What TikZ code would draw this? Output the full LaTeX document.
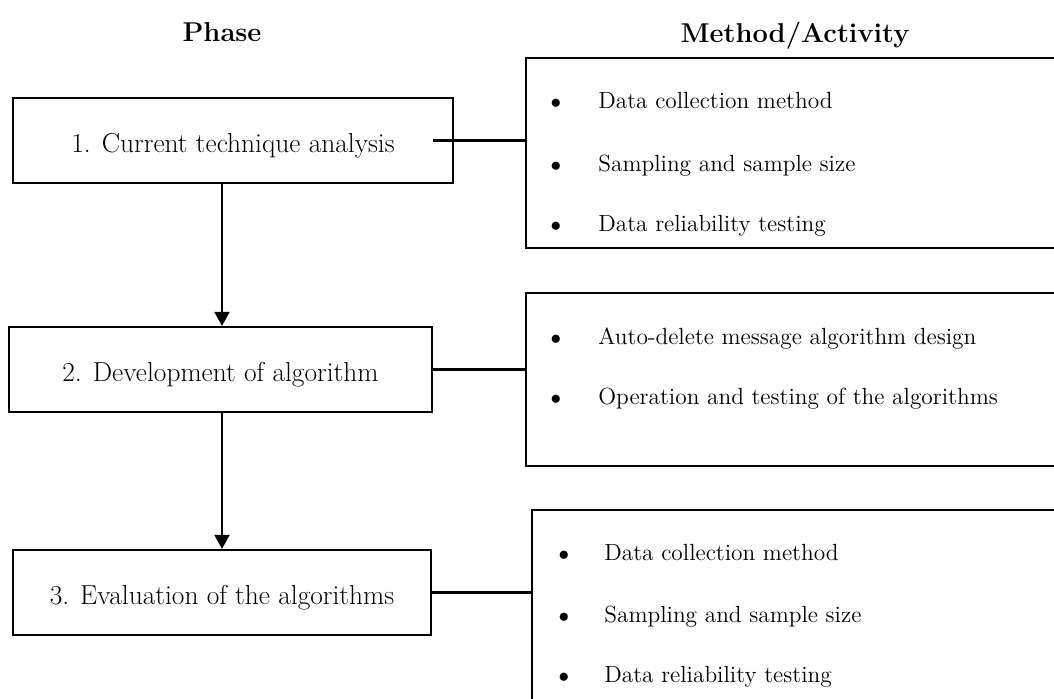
\documentclass[tikz,border=0pt]{standalone}
\usepackage{tikz}
\usetikzlibrary{arrows.meta,positioning,calc}
\tikzset{
  phasebox/.style={rectangle, draw=black, line width=1.2pt, minimum height=1.7cm,
                   inner sep=0pt, text height=17pt, text depth=2.8pt,
                   font=\fontsize{15.6}{18}\selectfont},
  actbox/.style={rectangle, draw=black, line width=1.2pt, inner sep=0pt},
  actbullet/.style={anchor=base, inner sep=0pt, font=\fontsize{11.5}{14}\selectfont},
  actitem/.style={anchor=base west, inner sep=0pt, font=\fontsize{13.3}{16}\selectfont},
  headtitle/.style={anchor=base, inner sep=0pt, font=\bfseries\fontsize{15.5}{19}\selectfont},
  plink/.style={line width=1.2pt, black},
  parrow/.style={-{Triangle[length=8pt,width=8.5pt]}, line width=1.2pt, black},
}
\begin{document}
\begin{tikzpicture}
  \clip (0,0) rectangle (21.08,-13.96);
  \node[headtitle] (hphase) at (4.44,-0.82) {Phase};
  \node[headtitle] (hmeth) at (15.9,-0.85) {Method/Activity};
  \node[phasebox, minimum width=8.8cm]  (p1) at (4.66,-2.81)  {1. Current technique analysis};
  \node[phasebox, minimum width=8.46cm] (p2) at (4.41,-7.39)  {2. Development of algorithm};
  \node[phasebox, minimum width=8.36cm] (p3) at (4.44,-11.85) {3. Evaluation of the algorithms};
  \node[actbox, minimum width=11.08cm, minimum height=3.8cm]  (a1) at (16.06,-3.06) {};
  \node[actbox, minimum width=11.08cm, minimum height=3.46cm] (a2) at (16.06,-7.59) {};
  \node[actbox, minimum width=10.96cm, minimum height=4.2cm]  (a3) at (16.12,-12.3) {};
  \foreach \k/\y/\t in {1/-2.16/Data collection method,2/-3.42/Sampling and sample size,3/-4.62/Data reliability testing} {
    \node[actbullet] (a1b\k) at (11.12,\y) {$\bullet$};
    \node[actitem]   (a1t\k) at (11.96,\y) {\t};
  }
  \foreach \k/\y/\t in {1/-6.88/Auto-delete message algorithm design,2/-8.08/Operation and testing of the algorithms} {
    \node[actbullet] (a2b\k) at (11.12,\y) {$\bullet$};
    \node[actitem]   (a2t\k) at (11.96,\y) {\t};
  }
  \foreach \k/\y/\t in {1/-11.2/Data collection method,2/-12.44/Sampling and sample size,3/-13.64/Data reliability testing} {
    \node[actbullet] (a3b\k) at (11.28,\y) {$\bullet$};
    \node[actitem]   (a3t\k) at (12.08,\y) {\t};
  }
  \draw[plink] (p1.center -| p2.east) -- (p1.center -| a1.west);
  \draw[plink] (p2.east) -- (p2.east -| a2.west);
  \draw[plink] (p3.east) -- (p3.east -| a3.west);
  \draw[parrow] (p1.south -| p3.center) -- (p2.north -| p3.center);
  \draw[parrow] (p2.south -| p3.center) -- (p3.north);
\end{tikzpicture}
\end{document}
